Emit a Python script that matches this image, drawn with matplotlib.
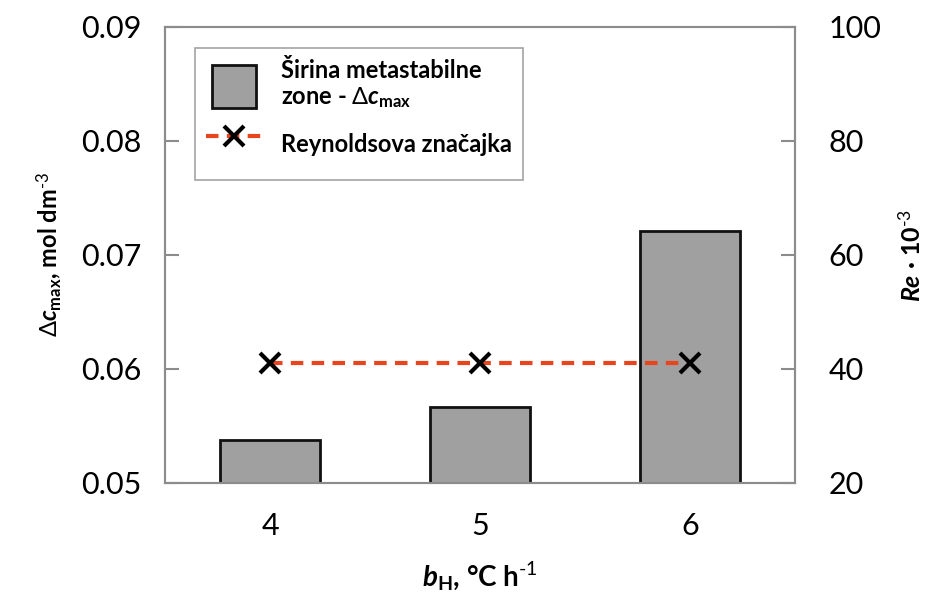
import numpy as np
import matplotlib.pyplot as plt
from matplotlib.patches import Rectangle
from matplotlib.legend_handler import HandlerPatch
from matplotlib.ticker import FormatStrFormatter

plt.rcParams['font.family'] = ['Lato', 'DejaVu Sans']
plt.rcParams['mathtext.fontset'] = 'custom'
plt.rcParams['mathtext.rm'] = 'Lato'
plt.rcParams['mathtext.it'] = 'Lato:italic'
plt.rcParams['mathtext.bf'] = 'Lato:bold'
plt.rcParams['mathtext.bfit'] = 'Lato:bold:italic'

# data
rates = ['4', '5', '6']
dc_max = [0.0538, 0.0567, 0.0721]
reynolds = [41.0, 41.0, 41.0]

frame_col = '#8c8c8c'


def narrow_box(legend, orig_handle, xdescent, ydescent, width, height, fontsize):
    w = width * 0.79
    h = height * 0.88
    return Rectangle((-xdescent + (width - w) / 2, -ydescent + (height - h) / 2), w, h)


fig = plt.figure(figsize=(9.25, 6), dpi=100)
ax = fig.add_axes([165/925, 1 - 483/600, 630/925, 456/600])
x = np.arange(len(rates))

bars = ax.bar(x, dc_max, width=0.48, color='#a0a0a0', edgecolor='#111111',
              linewidth=2, label='Širina metastabilne\nzone - $\\Delta\\mathbfit{c}_{\\mathregular{max}}$')
ax.set_xlim(-0.5, 2.5)
ax.set_ylim(0.05, 0.09)
ax.set_yticks([0.05, 0.06, 0.07, 0.08, 0.09])
ax.yaxis.set_major_formatter(FormatStrFormatter('%.2f'))
ax.set_xticks(x)
ax.set_xticklabels(rates)
ax.tick_params(axis='y', direction='in', length=10, width=1.5, color=frame_col,
               labelsize=22, pad=17)
ax.tick_params(axis='x', length=0, labelsize=22, pad=21)
for s in ax.spines.values():
    s.set_color(frame_col)
    s.set_linewidth(1.5)

ax2 = ax.twinx()
line, = ax2.plot(x, reynolds, linestyle='--', color='#e8451e', linewidth=3,
                 dashes=(3, 2), marker='x', markersize=15, markeredgewidth=3,
                 markeredgecolor='black', label='Reynoldsova značajka')
ax2.set_ylim(20, 100)
ax2.set_yticks([20, 40, 60, 80, 100])
ax2.tick_params(axis='y', direction='in', length=10, width=1.5, color=frame_col,
                labelsize=22, pad=24)
for s in ax2.spines.values():
    s.set_color(frame_col)
    s.set_linewidth(1.5)

ax.set_ylabel('$\\Delta\\mathbfit{c}_{\\mathregular{max}}$, mol dm$^{\\text{-3}}$',
              fontsize=17, fontweight='bold', labelpad=12)
ax2.set_ylabel('$\\mathbfit{Re}$ · 10$^{\\text{-3}}$', fontsize=18,
               fontweight='bold', labelpad=12)
ax.set_xlabel('$\\mathbfit{b}_{\\mathregular{H}}$, °C h$^{\\text{-1}}$',
              fontsize=20, fontweight='bold', labelpad=14)

leg = ax.legend([bars.patches[0], line], [bars.get_label(), line.get_label()],
                loc='upper left', bbox_to_anchor=(30/630, 1 - 21/456),
                borderaxespad=0, frameon=True, fancybox=False, handlelength=2.4,
                handleheight=2.8, borderpad=0.45, labelspacing=0.4,
                handletextpad=0.8, prop={'weight': 'bold', 'size': 17},
                handler_map={Rectangle: HandlerPatch(patch_func=narrow_box)})
leg.get_frame().set_edgecolor(frame_col)
leg.get_frame().set_linewidth(1.2)

fig.savefig('out.png', dpi=100)
